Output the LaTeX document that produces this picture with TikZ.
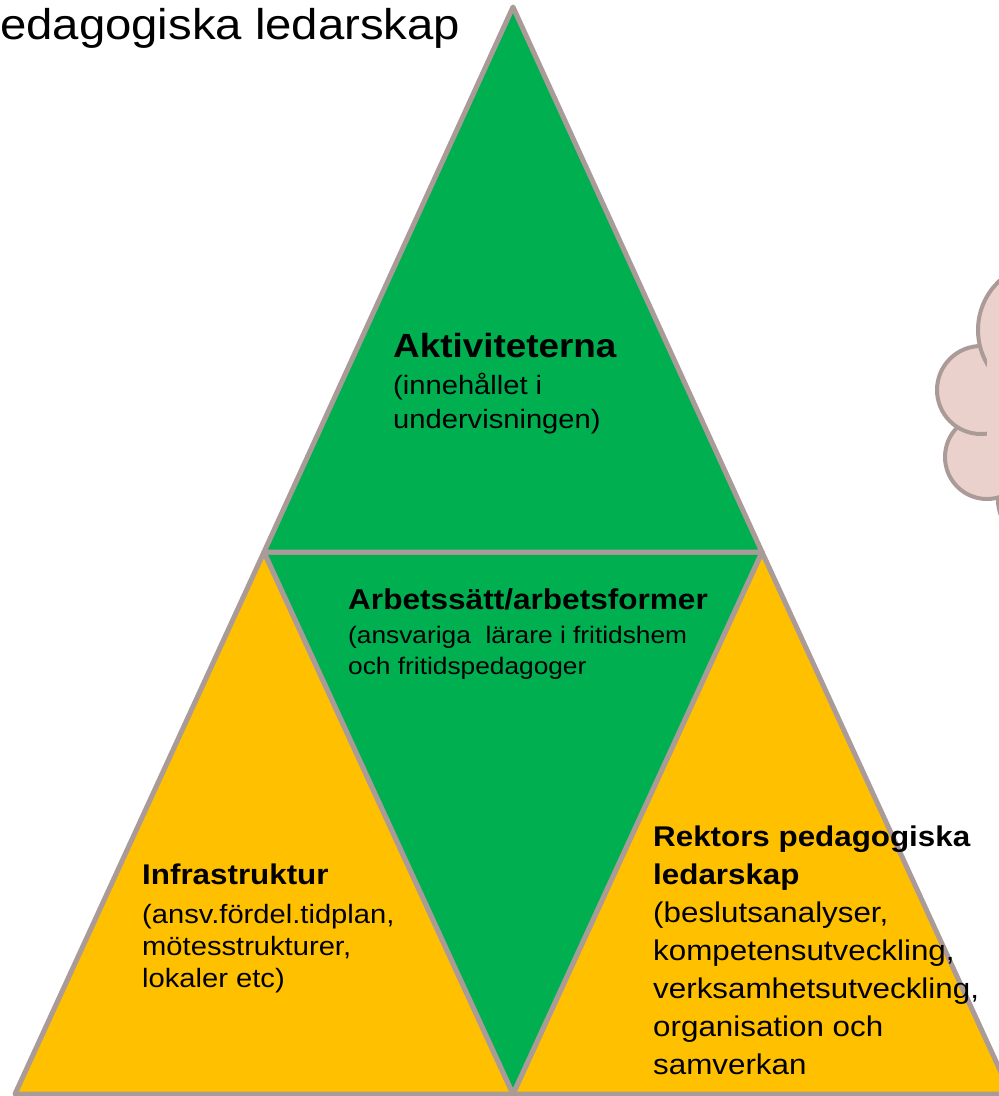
\documentclass[tikz,border=0pt]{standalone}
\usepackage{fontspec}
\setmainfont[FakeStretch=1.1]{Liberation Sans}
\definecolor{edgegrey}{RGB}{170,155,152}
\definecolor{leafgreen}{RGB}{0,176,80}
\definecolor{gold}{RGB}{255,192,0}
\definecolor{cloudpink}{RGB}{235,209,204}
\newcommand{\fs}[2]{\fontsize{#1}{#2}\selectfont}
\tikzset{
  tri/.style={draw=edgegrey, line width=5pt, line join=round},
  puff/.style={draw=edgegrey, line width=4pt, fill=cloudpink},
  txt/.style={inner sep=0pt, anchor=base west, align=left}
}
\begin{document}
\begin{tikzpicture}[x=1pt,y=-1pt]
    \useasboundingbox (0,0) rectangle (999,1096);

    % cloud (mostly off the page)
    \filldraw[puff] (1040,500) circle [radius=42];
    \filldraw[puff] (987,457) circle [radius=42];
    \filldraw[puff] (981,390) circle [radius=44];
    \filldraw[puff] (1045,330) circle [radius=67];
    \fill[cloudpink] (987,300) rectangle (1005,490);

    % corners
    \coordinate (top) at (513,7);
    \coordinate (midL) at (264,552);
    \coordinate (midR) at (762,552);
    \coordinate (botL) at (15,1094);
    \coordinate (botM) at (513,1094);
    \coordinate (botR) at (1011,1094);

    % triangles
    \filldraw[tri, fill=gold] (midL) -- (botL) -- (botM) -- cycle;
    \filldraw[tri, fill=gold] (midR) -- (botM) -- (botR) -- cycle;
    \filldraw[tri, fill=leafgreen] (midL) -- (midR) -- (botM) -- cycle;
    \filldraw[tri, fill=leafgreen] (top) -- (midL) -- (midR) -- cycle;

    % texts (base = last line)
    \node[txt, font=\fs{43}{50}] (title) at (0,39) {edagogiska ledarskap};

    \node[txt, font=\fs{26.5}{34}] (akt) at (393,428)
        {{\fs{33.5}{34}\bfseries Aktiviteterna}\\[3pt]
         (innehållet i\\undervisningen)};

    \node[txt, font=\fs{23.9}{31}] (arb) at (348,674)
        {{\fs{28.7}{31}\bfseries Arbetssätt/arbetsformer}\\[3pt]
         (ansvariga\ \ lärare i fritidshem\\och fritidspedagoger};

    \node[txt, font=\fs{26.5}{32}] (infra) at (142,987)
        {{\fs{28.5}{32}\bfseries Infrastruktur}\\[7pt]
         (ansv.fördel.tidplan,\\mötesstrukturer,\\lokaler etc)};

    \node[txt, font=\fs{28.5}{38}] (rektor) at (653,1074)
        {{\bfseries Rektors pedagogiska}\\{\bfseries ledarskap}\\
         (beslutsanalyser,\\kompetensutveckling,\\verksamhetsutveckling,\\
         organisation och\\samverkan};
\end{tikzpicture}
\end{document}
